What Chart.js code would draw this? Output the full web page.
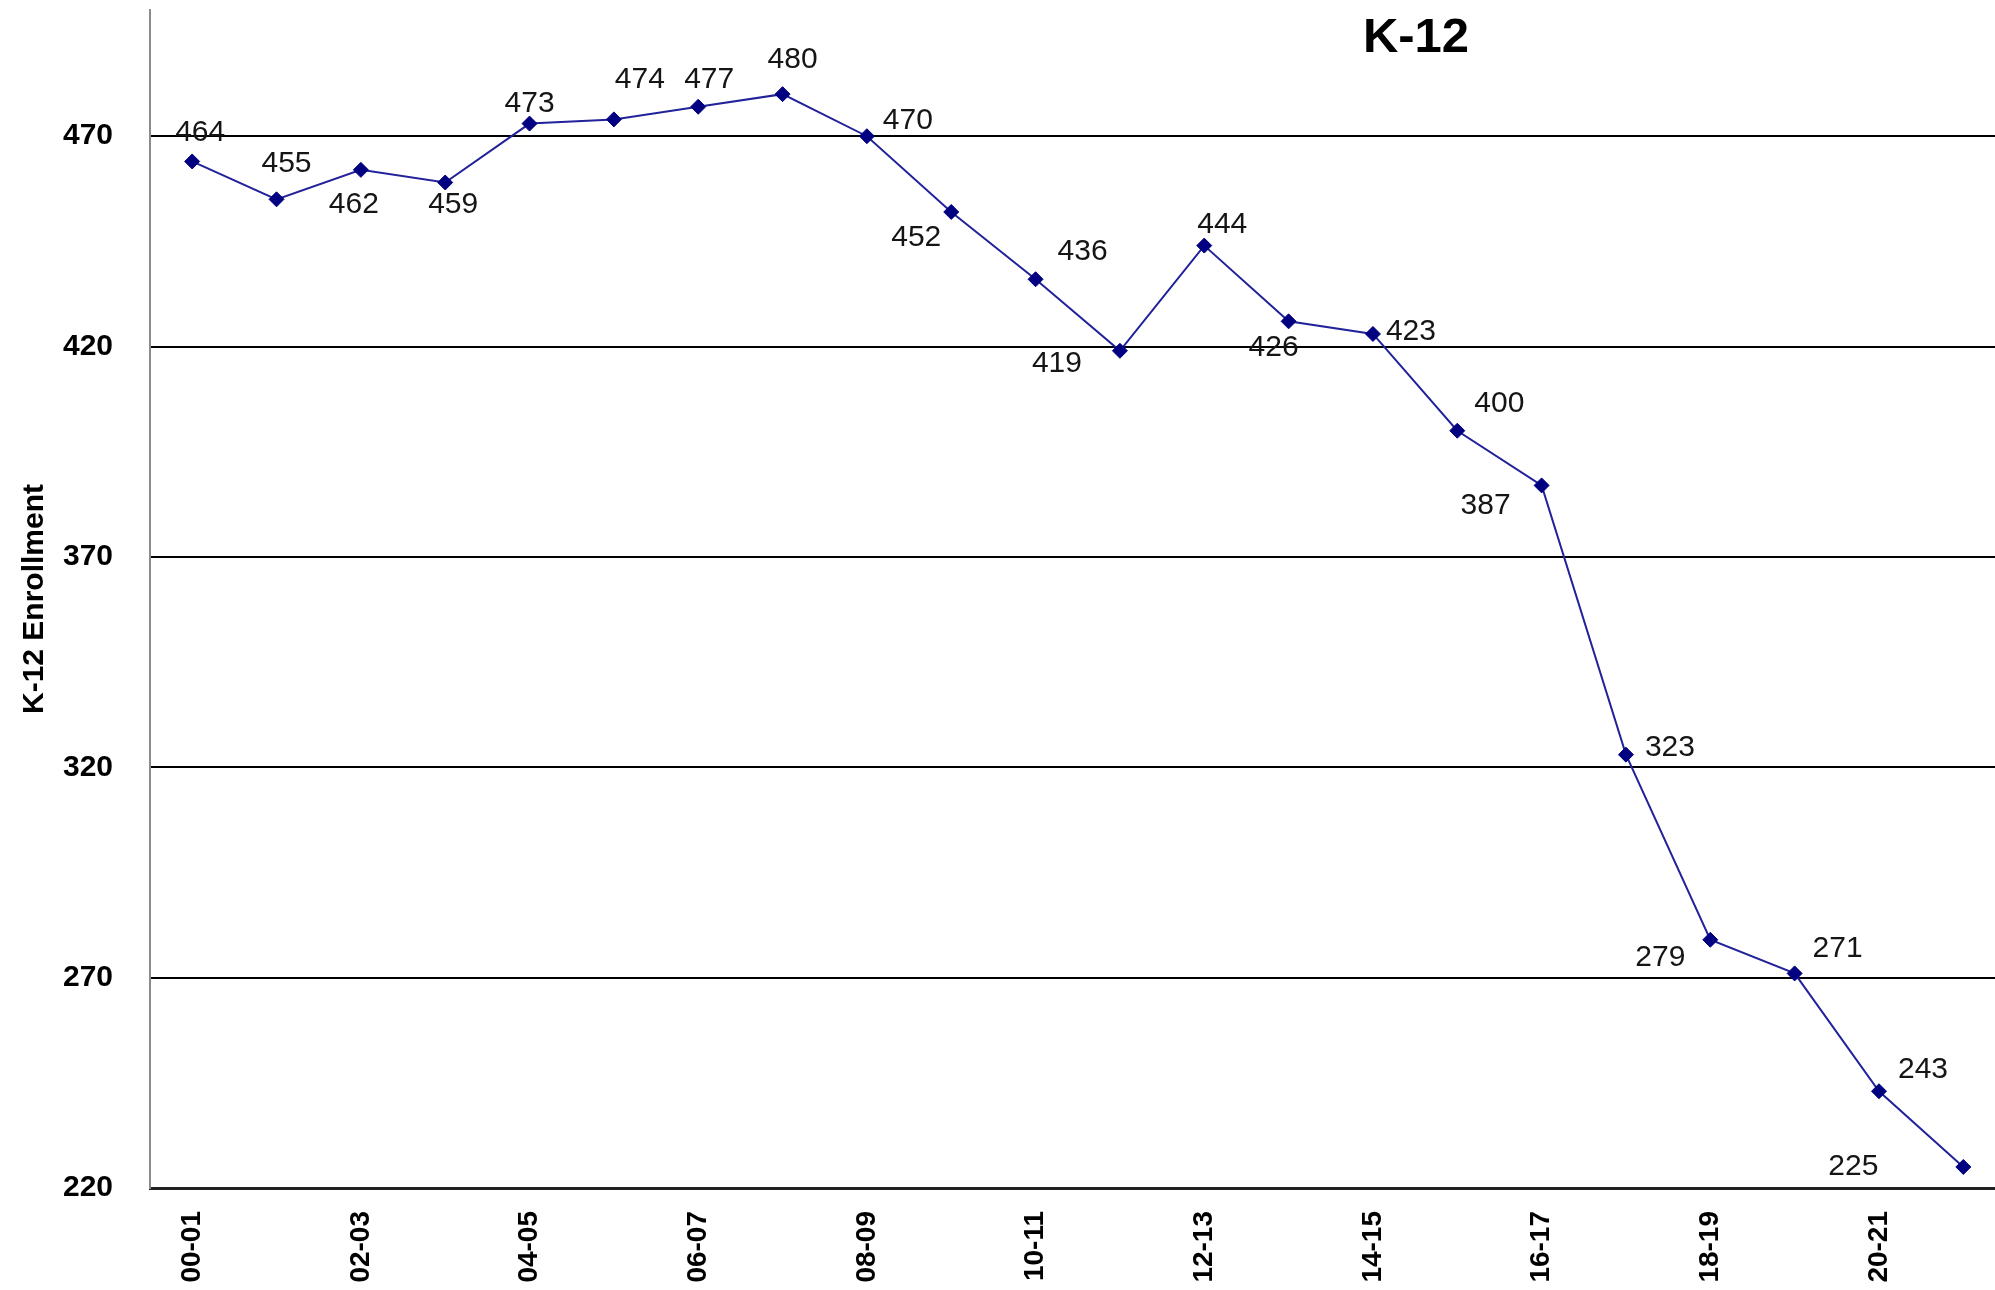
<!DOCTYPE html>
<html>
<head>
<meta charset="utf-8">
<script src="https://cdn.jsdelivr.net/npm/chart.js@4/dist/chart.umd.min.js"></script>
<style>
  html, body { margin: 0; padding: 0; background: #ffffff; overflow: hidden; }
  #wrap { width: 2014px; height: 1290px; position: relative; }
  canvas { display: block; }
</style>
</head>
<body>
<div id="wrap"><canvas id="c" width="2014" height="1290"></canvas></div>
<script>
// ---- Data ----
const categories = ['00-01','01-02','02-03','03-04','04-05','05-06','06-07','07-08','08-09','09-10','10-11',
                    '11-12','12-13','13-14','14-15','15-16','16-17','17-18','18-19','19-20','20-21','21-22'];
const enrollment = [464,455,462,459,473,474,477,480,470,452,436,419,444,426,423,400,387,323,279,271,243,225];
const xTickLabels = ['00-01','02-03','04-05','06-07','08-09','10-11','12-13','14-15','16-17','18-19','20-21'];
const yTickValues = [220,270,320,370,420,470];
const chartTitle = 'K-12';
const yAxisTitle = 'K-12 Enrollment';

// ---- Label placement (style, px offsets from each point) ----
const labelOffsets = [[8,-29],[10,-36],[-7,35],[8,22],[0,-20],[26,-40],[11,-27],[10,-34],[41,-15],[-35,26],[47,-28],
                      [-63,13],[18,-21],[-15,26],[38,-2],[42,-27],[-56,20],[44,-7],[-50,18],[43,-25],[44,-22],[-110,0]];

const FONT = '"Liberation Sans", Arial, Helvetica, sans-serif';

const pointLabels = {
  id: 'pointLabels',
  afterDatasetsDraw(chart) {
    const ctx = chart.ctx;
    const meta = chart.getDatasetMeta(0);
    ctx.save();
    ctx.font = '30px ' + FONT;
    ctx.fillStyle = '#151515';
    ctx.textAlign = 'center';
    ctx.textBaseline = 'middle';
    meta.data.forEach((pt, i) => {
      const off = labelOffsets[i] || [0, -25];
      ctx.fillText(String(enrollment[i]), pt.x + off[0], pt.y + off[1]);
    });
    ctx.restore();
  }
};

const floatingTitle = {
  id: 'floatingTitle',
  afterDraw(chart) {
    const ctx = chart.ctx;
    ctx.save();
    ctx.font = 'bold 49px ' + FONT;
    ctx.fillStyle = '#000000';
    ctx.textAlign = 'center';
    ctx.textBaseline = 'alphabetic';
    ctx.fillText(chartTitle, 1416, 52);
    ctx.restore();
  }
};

new Chart(document.getElementById('c'), {
  type: 'line',
  data: {
    labels: categories,
    datasets: [{
      data: enrollment,
      borderColor: '#22229a',
      borderWidth: 2,
      pointStyle: 'rectRot',
      pointRadius: 7.5,
      pointBorderWidth: 1,
      pointBackgroundColor: '#000080',
      pointBorderColor: '#000080',
      tension: 0,
      fill: false
    }]
  },
  options: {
    responsive: false,
    maintainAspectRatio: false,
    devicePixelRatio: 1,
    animation: false,
    layout: { padding: { left: 13, top: 10, right: 0, bottom: 0 } },
    plugins: {
      legend: { display: false },
      title: { display: false },
      tooltip: { enabled: false }
    },
    scales: {
      x: {
        type: 'category',
        offset: true,
        grid: { display: false, drawTicks: false },
        border: { display: true, color: '#222222', width: 3 },
        ticks: {
          autoSkip: false,
          minRotation: 90,
          maxRotation: 90,
          padding: 23,
          color: '#000000',
          font: { family: FONT, size: 28, weight: 'bold' },
          callback: function(value, index) {
            const lab = categories[index];
            return xTickLabels.includes(lab) ? lab : '';
          }
        },
        afterFit(scale) { scale.height = 102; scale.paddingLeft = 0; scale.paddingRight = 0; }
      },
      y: {
        type: 'linear',
        min: 220,
        max: 500,
        grid: { color: '#000000', lineWidth: 2, drawTicks: false },
        border: { display: true, color: '#8c8c8c', width: 2 },
        ticks: {
          padding: 37,
          color: '#000000',
          font: { family: FONT, size: 30, weight: 'bold' }
        },
        afterBuildTicks(scale) { scale.ticks = yTickValues.map(v => ({ value: v })); },
        afterFit(scale) { scale.width = 137; scale.paddingTop = 0; scale.paddingBottom = 0; },
        title: {
          display: true,
          text: yAxisTitle,
          color: '#000000',
          font: { family: FONT, size: 30, weight: 'bold' },
          padding: { top: 4, bottom: 4 }
        }
      }
    }
  },
  plugins: [pointLabels, floatingTitle]
});
</script>
</body>
</html>
